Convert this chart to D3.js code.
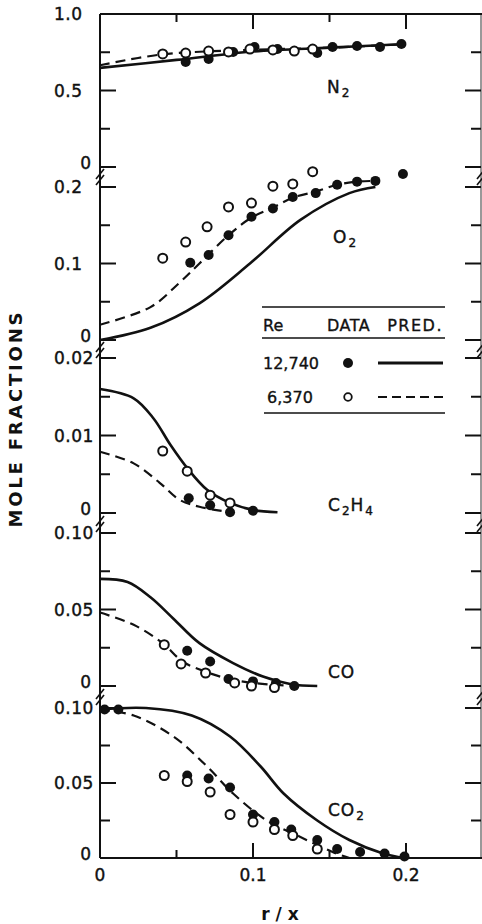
<!DOCTYPE html>
<html>
<head>
<meta charset="utf-8">
<script src="https://cdn.jsdelivr.net/npm/d3@7"></script>
<style>
  html, body { margin: 0; padding: 0; background: #fff; }
  svg { display: block; }
  text { font-family: "DejaVu Sans", "Liberation Sans", sans-serif; fill: #111; }
</style>
</head>
<body>
<svg id="chart" width="482" height="924"></svg>
<script>
// ---- data: [r/x, mole fraction] ----
const xTicks = [0, 0.1, 0.2];
const xMinorTicks = [0.05, 0.15];

const n2Open = [[0.041,0.739],[0.056,0.745],[0.071,0.758],[0.084,0.752],[0.098,0.771],[0.113,0.765],[0.127,0.758],[0.139,0.771]];
const n2Filled = [[0.056,0.686],[0.071,0.706],[0.087,0.752],[0.101,0.784],[0.116,0.771],[0.142,0.745],[0.152,0.784],[0.168,0.791],[0.183,0.784],[0.197,0.804]];
const n2Solid = [[0,0.648],[0.05,0.700],[0.1,0.755],[0.15,0.780],[0.197,0.802]];
const n2Dashed = [[0,0.665],[0.04,0.735],[0.1,0.766],[0.15,0.780],[0.197,0.802]];

const o2Open = [[0.041,0.107],[0.056,0.128],[0.070,0.148],[0.084,0.174],[0.099,0.179],[0.113,0.201],[0.126,0.204],[0.139,0.220]];
const o2Filled = [[0.059,0.101],[0.071,0.111],[0.084,0.137],[0.099,0.161],[0.113,0.172],[0.126,0.187],[0.141,0.192],[0.155,0.203],[0.168,0.207],[0.180,0.208],[0.198,0.217]];
const o2Solid = [[0,0.0],[0.033,0.016],[0.065,0.048],[0.098,0.100],[0.131,0.157],[0.163,0.192],[0.180,0.200]];
const o2Dashed = [[0,0.020],[0.033,0.043],[0.052,0.075],[0.065,0.100],[0.084,0.137],[0.099,0.160],[0.113,0.173],[0.126,0.186],[0.141,0.194],[0.155,0.203],[0.168,0.207],[0.180,0.208]];

const c2h4Open = [[0.041,0.0080],[0.057,0.0054],[0.072,0.0023],[0.085,0.0013]];
const c2h4Filled = [[0.058,0.0019],[0.072,0.0010],[0.085,0.0001],[0.100,0.0003]];
const c2h4Solid = [[0,0.0160],[0.022,0.0148],[0.035,0.0122],[0.046,0.0088],[0.057,0.0058],[0.070,0.0030],[0.085,0.0013],[0.100,0.0004],[0.116,0.0001]];
const c2h4Dashed = [[0,0.0079],[0.022,0.0064],[0.039,0.0039],[0.052,0.0017],[0.065,0.0008],[0.085,0.0001]];

const coOpen = [[0.042,0.027],[0.053,0.0144],[0.069,0.0085],[0.088,0.002],[0.099,0.0],[0.114,-0.001]];
const coFilled = [[0.057,0.023],[0.072,0.016],[0.084,0.0046],[0.100,0.003],[0.115,0.002],[0.127,0.0]];
const coSolid = [[0,0.070],[0.018,0.068],[0.033,0.058],[0.048,0.044],[0.065,0.028],[0.087,0.015],[0.107,0.006],[0.125,0.0012],[0.142,0.0]];
const coDashed = [[0,0.048],[0.022,0.040],[0.041,0.028],[0.054,0.016],[0.070,0.009],[0.083,0.005],[0.100,0.002],[0.126,0.0]];

const co2Open = [[0.042,0.055],[0.057,0.051],[0.072,0.044],[0.085,0.029],[0.100,0.024],[0.114,0.019],[0.126,0.015],[0.142,0.006]];
const co2Filled = [[0.003,0.099],[0.012,0.099],[0.057,0.055],[0.071,0.053],[0.085,0.047],[0.100,0.029],[0.114,0.024],[0.125,0.019],[0.142,0.012],[0.155,0.006],[0.170,0.004],[0.186,0.003],[0.199,0.001]];
const co2Solid = [[0,0.099],[0.030,0.100],[0.060,0.095],[0.085,0.081],[0.105,0.061],[0.120,0.043],[0.142,0.025],[0.163,0.012],[0.185,0.003],[0.199,0.0]];
const co2Dashed = [[0,0.099],[0.022,0.095],[0.048,0.081],[0.070,0.061],[0.087,0.043],[0.109,0.025],[0.131,0.014],[0.152,0.004],[0.163,0.0]];

const legendHeader = ["Re", "DATA", "PRED."];
const legendRows = ["12,740", "6,370"];
const yTitle = "MOLE FRACTIONS";
const xTitle = "r / x";

// ---- layout ----
const svg = d3.select("#chart");
const LEFT = 100, RIGHT = 481, TOP = 14, BOTTOM = 858;

const x = d3.scaleLinear().domain([0, 0.25]).range([LEFT, LEFT + 0.25 * 1530]);

// each panel has its own y scale stacked on one shared axis
const panels = [
    {name: ["N", "2"], max: 1.0, y0: 167, y1: 14, major: [0, 0.5, 1.0], labels: ["0", "0.5", "1.0"], minor: [0.25, 0.75],
     open: n2Open, filled: n2Filled, solid: n2Solid, dashed: n2Dashed, lx: 327, ly: 93},
    {name: ["O", "2"], max: 0.2, y0: 340, y1: 187, major: [0, 0.1, 0.2], labels: ["0", "0.1", "0.2"], minor: [0.05, 0.15],
     open: o2Open, filled: o2Filled, solid: o2Solid, dashed: o2Dashed, lx: 333, ly: 243},
    {name: ["C", "2", "H", "4"], max: 0.02, y0: 513, y1: 358, major: [0, 0.01, 0.02], labels: ["0", "0.01", "0.02"], minor: [0.005, 0.015],
     open: c2h4Open, filled: c2h4Filled, solid: c2h4Solid, dashed: c2h4Dashed, lx: 328, ly: 511},
    {name: ["CO"], max: 0.10, y0: 686, y1: 533, major: [0, 0.05, 0.10], labels: ["0", "0.05", "0.10"], minor: [0.025, 0.075],
     open: coOpen, filled: coFilled, solid: coSolid, dashed: coDashed, lx: 328, ly: 678},
    {name: ["CO", "2"], max: 0.10, y0: 858, y1: 708, major: [0, 0.05, 0.10], labels: ["0", "0.05", "0.10"], minor: [0.025, 0.075],
     open: co2Open, filled: co2Filled, solid: co2Solid, dashed: co2Dashed, lx: 328, ly: 816}
];
const breaks = [177, 350, 524, 697];

const ink = "#111";

// frame: left, right, top, bottom
svg.append("line").attr("x1", LEFT).attr("x2", LEFT).attr("y1", TOP).attr("y2", BOTTOM).attr("stroke", ink).attr("stroke-width", 2);
svg.append("line").attr("x1", RIGHT).attr("x2", RIGHT).attr("y1", TOP).attr("y2", BOTTOM).attr("stroke", "#777").attr("stroke-width", 1.5);
svg.append("line").attr("x1", LEFT).attr("x2", 482).attr("y1", TOP).attr("y2", TOP).attr("stroke", ink).attr("stroke-width", 2);
svg.append("line").attr("x1", LEFT).attr("x2", 482).attr("y1", BOTTOM).attr("y2", BOTTOM).attr("stroke", ink).attr("stroke-width", 2);

// x ticks top and bottom
xTicks.concat(xMinorTicks).forEach(t => {
    if (t === 0) return;
    const len = xTicks.includes(t) ? 15 : 8;
    svg.append("line").attr("x1", x(t)).attr("x2", x(t)).attr("y1", TOP).attr("y2", TOP + len).attr("stroke", ink).attr("stroke-width", 2);
    svg.append("line").attr("x1", x(t)).attr("x2", x(t)).attr("y1", BOTTOM).attr("y2", BOTTOM - len).attr("stroke", ink).attr("stroke-width", 2);
});
svg.append("g").selectAll("text").data(xTicks).join("text")
    .attr("x", d => x(d)).attr("y", 881)
    .attr("text-anchor", "middle").attr("font-size", 17)
    .attr("stroke", ink).attr("stroke-width", 0.4)
    .text(d => d === 0 ? "0" : d3.format(".1f")(d));

// axis breaks
breaks.forEach(by => {
    [LEFT, RIGHT].forEach(bx => {
        [-3, 3].forEach(off => {
            svg.append("line")
                .attr("x1", bx - 4).attr("y1", by + off + 5)
                .attr("x2", bx + 4).attr("y2", by + off - 5)
                .attr("stroke", ink).attr("stroke-width", 1.6);
        });
    });
});

const lineGen = y => d3.line().x(d => x(d[0])).y(d => y(d[1])).curve(d3.curveCatmullRom.alpha(0.5));

panels.forEach(p => {
    const y = d3.scaleLinear().domain([0, p.max]).range([p.y0, p.y1]);
    const g = svg.append("g");

    // ticks on left and right
    p.major.concat(p.minor).forEach(t => {
        const len = p.major.includes(t) ? 16 : 10;
        if (!(p.max === 1.0 && t === 1.0)) {
            g.append("line").attr("x1", LEFT).attr("x2", LEFT + len).attr("y1", y(t)).attr("y2", y(t)).attr("stroke", ink).attr("stroke-width", 2);
        }
        g.append("line").attr("x1", RIGHT).attr("x2", RIGHT - len).attr("y1", y(t)).attr("y2", y(t)).attr("stroke", ink).attr("stroke-width", 2);
    });
    g.selectAll("text.tick").data(p.major).join("text")
        .attr("class", "tick")
        .attr("x", (d, i) => p.labels[i] === "0" ? 86 : 54)
        .attr("y", (d, i) => p.labels[i] === "0" ? y(d) - 4 : y(d))
        .attr("dy", "0.36em")
        .attr("text-anchor", (d, i) => p.labels[i] === "0" ? "middle" : "start")
        .attr("font-size", 17)
        .attr("letter-spacing", 0.5)
        .attr("stroke", ink).attr("stroke-width", 0.4)
        .text((d, i) => p.labels[i]);

    // predicted curves
    g.append("path").datum(p.solid).attr("d", lineGen(y))
        .attr("fill", "none").attr("stroke", ink).attr("stroke-width", 2.6);
    g.append("path").datum(p.dashed).attr("d", lineGen(y))
        .attr("fill", "none").attr("stroke", ink).attr("stroke-width", 2.2).attr("stroke-dasharray", "10,6");

    // data
    g.selectAll("circle.filled").data(p.filled).join("circle")
        .attr("class", "filled")
        .attr("cx", d => x(d[0])).attr("cy", d => y(d[1])).attr("r", 5)
        .attr("fill", ink);
    g.selectAll("circle.open").data(p.open).join("circle")
        .attr("class", "open")
        .attr("cx", d => x(d[0])).attr("cy", d => y(d[1])).attr("r", 4.5)
        .attr("fill", "#fff").attr("stroke", ink).attr("stroke-width", 2);

    // species label with subscripts
    const lbl = g.append("text").attr("x", p.lx).attr("y", p.ly).attr("font-size", 17).attr("letter-spacing", 1)
        .attr("stroke", ink).attr("stroke-width", 0.4);
    p.name.forEach((s, i) => {
        const sub = /^\d$/.test(s);
        lbl.append("tspan")
            .attr("font-size", sub ? 12 : 17)
            .attr("dy", sub ? 4 : (i > 0 ? -4 : 0))
            .attr("dx", sub ? 1 : 0)
            .text(s);
    });
});

// legend
const lg = svg.append("g");
lg.append("line").attr("x1", 262).attr("x2", 445).attr("y1", 307).attr("y2", 307).attr("stroke", ink).attr("stroke-width", 1.6);
lg.append("line").attr("x1", 262).attr("x2", 445).attr("y1", 338).attr("y2", 338).attr("stroke", ink).attr("stroke-width", 1.6);
lg.append("line").attr("x1", 264).attr("x2", 445).attr("y1", 413).attr("y2", 413).attr("stroke", ink).attr("stroke-width", 1.6);
const lt = lg.append("g").attr("font-size", 16).attr("stroke", ink).attr("stroke-width", 0.35);
lt.append("text").attr("x", 263).attr("y", 331).text(legendHeader[0]);
lt.append("text").attr("x", 327).attr("y", 331).attr("letter-spacing", 0.5).text(legendHeader[1]);
lt.append("text").attr("x", 443).attr("y", 331).attr("letter-spacing", 1.5).attr("text-anchor", "end").text(legendHeader[2]);
lt.append("text").attr("x", 263).attr("y", 369).text(legendRows[0]);
lt.append("text").attr("x", 267).attr("y", 403).text(legendRows[1]);
lg.append("circle").attr("cx", 348).attr("cy", 363).attr("r", 5).attr("fill", ink);
lg.append("circle").attr("cx", 348).attr("cy", 397).attr("r", 3.8).attr("fill", "#fff").attr("stroke", ink).attr("stroke-width", 1.8);
lg.append("line").attr("x1", 378).attr("x2", 443).attr("y1", 363).attr("y2", 363).attr("stroke", ink).attr("stroke-width", 3);
lg.append("line").attr("x1", 378).attr("x2", 443).attr("y1", 397).attr("y2", 397).attr("stroke", ink).attr("stroke-width", 2.2).attr("stroke-dasharray", "9,5");

// axis titles
svg.append("text")
    .attr("transform", "translate(22,420) rotate(-90)")
    .attr("text-anchor", "middle")
    .attr("font-size", 18).attr("font-weight", "bold")
    .attr("textLength", 215).attr("lengthAdjust", "spacing")
    .text(yTitle);
svg.append("text")
    .attr("x", 280).attr("y", 920)
    .attr("text-anchor", "middle")
    .attr("font-size", 17).attr("font-weight", "bold")
    .attr("xml:space", "preserve")
    .text(xTitle);
</script>
</body>
</html>
